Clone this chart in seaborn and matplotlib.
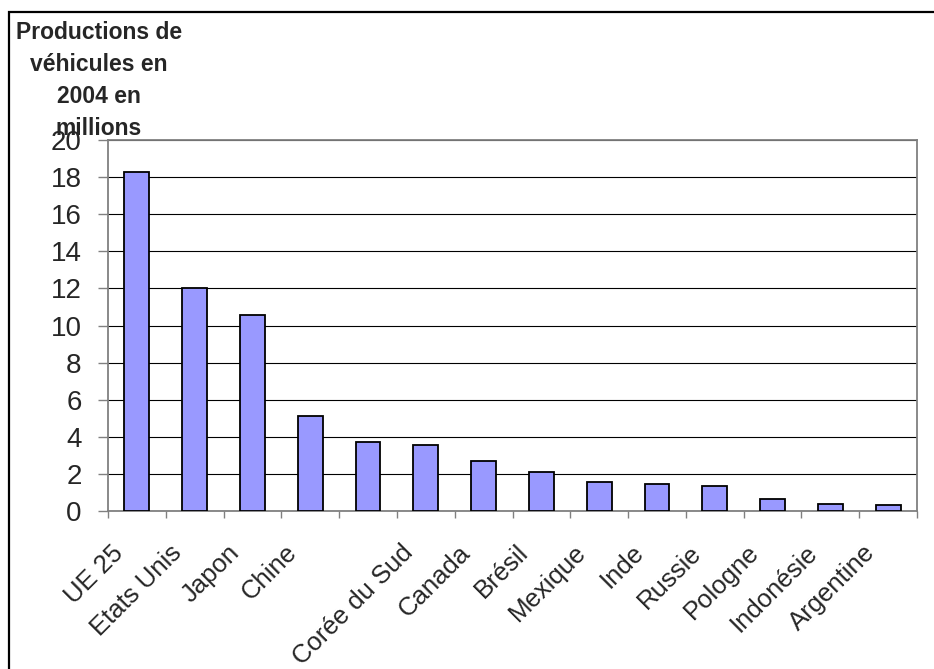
import matplotlib
matplotlib.use("Agg")
import matplotlib.pyplot as plt
import matplotlib.transforms as mtransforms
import seaborn as sns
import pandas as pd
from matplotlib.patches import Rectangle
from matplotlib.ticker import FixedLocator

# ---- data ----
pays = ["UE 25", "Etats Unis", "Japon", "Chine", " ", "Corée du Sud", "Canada",
        "Brésil", "Mexique", "Inde", "Russie", "Pologne", "Indonésie", "Argentine"]
production = [18.3, 12.0, 10.55, 5.1, 3.7, 3.55, 2.7, 2.1, 1.55, 1.45, 1.35, 0.63, 0.4, 0.3]
y_ticks = [0, 2, 4, 6, 8, 10, 12, 14, 16, 18, 20]
titre = "Productions de\nvéhicules en\n2004 en\nmillions"

df = pd.DataFrame({"pays": pays, "production": production})

sns.set_style("white")
plt.rcParams["font.family"] = ["Liberation Sans", "DejaVu Sans"]

W, H = 934, 669
fig = plt.figure(figsize=(W / 100, H / 100), dpi=100)
ax = fig.add_axes([108 / W, 1 - 511 / H, (917 - 108) / W, (511 - 140) / H])

sns.barplot(data=df, x="pays", y="production", order=pays, color="#9999ff",
            edgecolor="black", linewidth=1.3, width=0.43, saturation=1, ax=ax, zorder=3)

ax.set_ylim(0, 20)
ax.set_xlim(-0.5, len(pays) - 0.5)
ax.set_yticks(y_ticks)
ax.set_yticklabels([str(v) for v in y_ticks], fontsize=20)
ax.yaxis.grid(True, color="black", linewidth=0.8, zorder=0)
ax.set_axisbelow(True)

# category labels drawn as rotated texts below each category
ax.set_xticks(range(len(pays)))
ax.set_xticklabels([])
ax.tick_params(axis="x", which="major", length=0)
base = mtransforms.blended_transform_factory(ax.transData, ax.transAxes)
offset = mtransforms.ScaledTranslation(-17 / 100, -38 / 100, fig.dpi_scale_trans)
for i, p in enumerate(pays):
    ax.text(i, 0, p, transform=base + offset, rotation=45, ha="right", va="center",
            rotation_mode="anchor", fontsize=18.5, clip_on=False)

ax.xaxis.set_minor_locator(FixedLocator([i - 0.5 for i in range(len(pays) + 1)]))
ax.tick_params(axis="x", which="minor", length=5, width=1, color="#808080", direction="out", bottom=True)
ax.tick_params(axis="y", which="major", length=7, width=1, color="#808080", direction="out", pad=12, left=True)
ax.set_xlabel("")
ax.set_ylabel("")

for s in ["left", "right", "top", "bottom"]:
    ax.spines[s].set_visible(True)
    ax.spines[s].set_color("#808080")
    ax.spines[s].set_linewidth(1.3)

fig.text(99 / W, 1 - 21 / H, titre, ha="center", va="top", fontsize=16.5,
         fontweight="bold", linespacing=1.5)

fig.patches.append(Rectangle((9 / W, -0.05), 1.2, 1 - 12 / H + 0.05,
                             transform=fig.transFigure, fill=False,
                             edgecolor="black", linewidth=1.6, zorder=10))

fig.savefig("out.png", dpi=100)
